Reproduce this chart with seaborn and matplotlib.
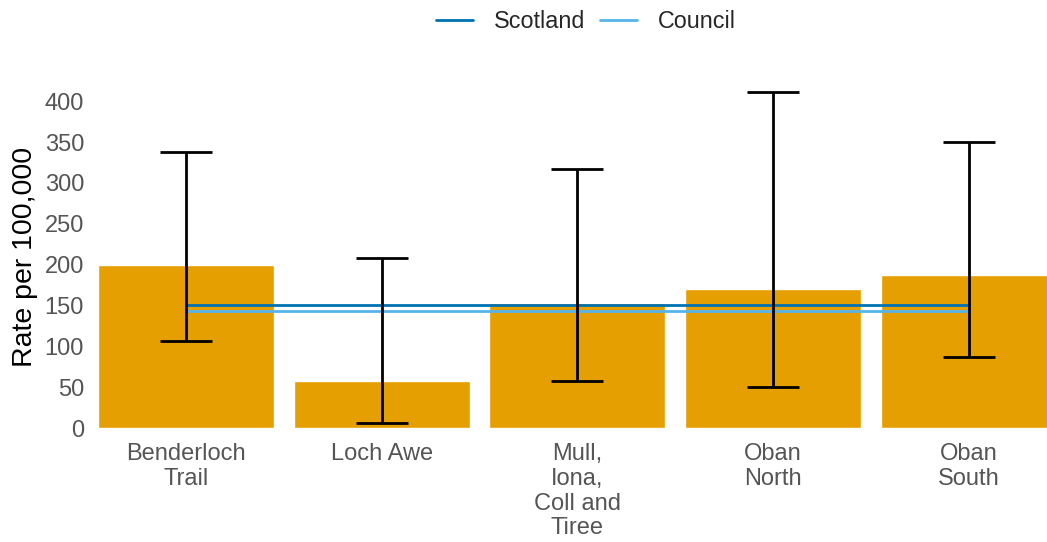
import numpy as np
import pandas as pd
import matplotlib
matplotlib.use('Agg')
import matplotlib.pyplot as plt
import seaborn as sns

areas = ['Benderloch\nTrail', 'Loch Awe', 'Mull,\nIona,\nColl and\nTiree', 'Oban\nNorth', 'Oban\nSouth']
rates = [200, 58, 153, 170, 187]
lower_ci = [107, 6, 58, 50, 87]
upper_ci = [338, 208, 317, 411, 350]
scotland_rate = 150
council_rate = 143

sns.set_theme(style='white')
plt.rcParams['font.family'] = ['Liberation Sans', 'DejaVu Sans']

fig = plt.figure(figsize=(10.47, 5.42), dpi=100)
ax = fig.add_axes([0.0936, 0.2103, 0.9064, 0.63])

df = pd.DataFrame({'area': areas, 'rate': rates})
sns.barplot(data=df, x='area', y='rate', color='#E69F00', saturation=1, width=0.9, ax=ax)

pos = np.arange(len(areas))
rates_arr = np.array(rates)
yerr = np.vstack([rates_arr - np.array(lower_ci), np.array(upper_ci) - rates_arr])
ax.errorbar(pos, rates_arr, yerr=yerr, fmt='none', ecolor='black', elinewidth=2,
            capsize=19, capthick=2, zorder=4)

sns.lineplot(x=pos, y=[scotland_rate] * len(pos), color='#0072B2', linewidth=2, label='Scotland', ax=ax, zorder=3)
sns.lineplot(x=pos, y=[council_rate] * len(pos), color='#56B4E9', linewidth=2, label='Council', ax=ax, zorder=3)

ax.set_xlim(-0.45, 4.4)
ax.set_ylim(0, 418)
ax.set_yticks(np.arange(0, 401, 50))
ax.set_xlabel('')
ax.set_ylabel('Rate per 100,000', fontsize=20.5, color='black', labelpad=5)
ax.tick_params(axis='y', labelsize=17, colors='#555555', length=0, pad=10)
ax.tick_params(axis='x', labelsize=17, colors='#555555', length=0, pad=11)
for lbl in ax.get_xticklabels():
    lbl.set_linespacing(1.16)
for s in ax.spines.values():
    s.set_visible(False)

handles, labels = ax.get_legend_handles_labels()
ax.get_legend().remove()
fig.legend(handles, labels, loc='upper center', bbox_to_anchor=(0.5597, 1.02), ncol=2, frameon=False,
           fontsize=16.8, handlelength=1.6, handletextpad=0.9, columnspacing=0.6)

fig.savefig('out.png', dpi=100)
